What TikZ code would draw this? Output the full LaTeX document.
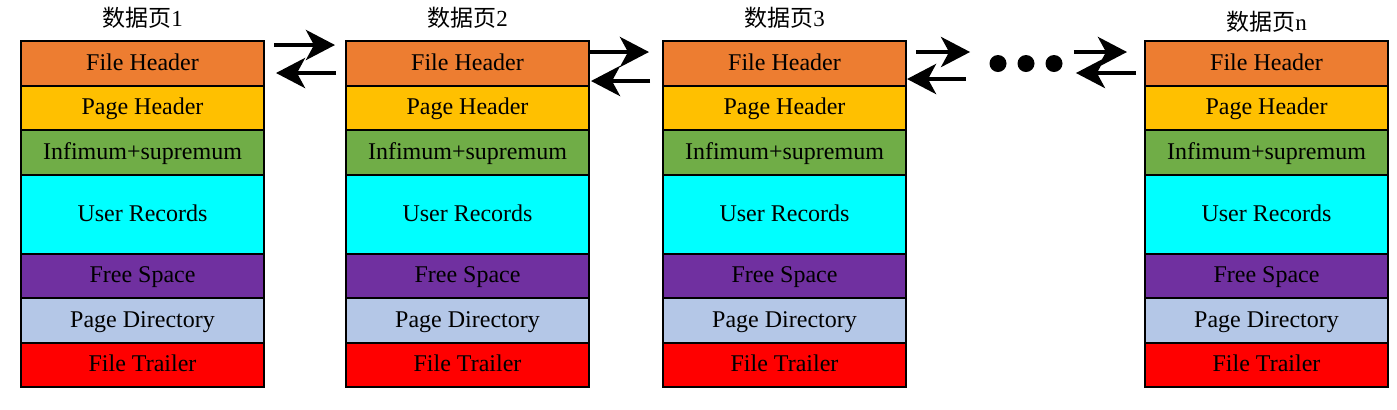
\documentclass[tikz,border=0pt]{standalone}
\usepackage{fontspec}
\setmainfont{Liberation Serif}
\newfontfamily\cjk{Noto Sans CJK SC}
\usepackage{tikz}
\usetikzlibrary{arrows.meta,calc,positioning}
\definecolor{fhOrange}{HTML}{ED7D31}
\definecolor{phGold}{HTML}{FFC000}
\definecolor{infGreen}{HTML}{70AD47}
\definecolor{urCyan}{HTML}{00FFFF}
\definecolor{fsPurple}{HTML}{7030A0}
\definecolor{pdBlue}{HTML}{B4C7E7}
\definecolor{ftRed}{HTML}{FF0000}

\begin{document}
\begin{tikzpicture}[
    x=0.5pt,y=-0.5pt,
    node distance=0pt,
    cell/.style={draw=black,line width=0.8pt,minimum width=121.5pt,
      inner sep=0pt,outer sep=0pt,text height=7.9pt,text depth=1pt,
      font=\fontsize{12}{14}\selectfont},
    pagetitle/.style={inner sep=0pt,font=\fontsize{11.5}{13}\selectfont},
    dot/.style={circle,fill=black,minimum size=8.5pt,inner sep=0pt},
    link/.style={-{Stealth[length=14.5pt,width=15pt,inset=4pt]},line width=2.2pt}
  ]
    \useasboundingbox (0,0) rectangle (1397,409);

    % the four data pages
    \foreach \i/\x/\ty in {1/142.5/18,2/467.5/18,3/784.5/18,n/1266.5/22}{
      \node[pagetitle] (t\i) at (\x,\ty) {{\cjk 数据页}\i};
      \node[cell,fill=fhOrange,minimum height=22.5pt] (fh\i) at (\x,63.5) {File Header};
      \node[cell,fill=phGold,minimum height=22pt,below=of fh\i] (ph\i) {Page Header};
      \node[cell,fill=infGreen,minimum height=22.5pt,below=of ph\i] (inf\i) {Infimum+supremum};
      \node[cell,fill=urCyan,minimum height=39.5pt,below=of inf\i] (ur\i) {User Records};
      \node[cell,fill=fsPurple,minimum height=22pt,below=of ur\i] (fs\i) {Free Space};
      \node[cell,fill=pdBlue,minimum height=22.5pt,below=of fs\i] (pd\i) {Page Directory};
      \node[cell,fill=ftRed,minimum height=22pt,below=of pd\i] (ft\i) {File Trailer};
    }

    % ellipsis between page 3 and page n
    \node[dot] (dot1) at (998,63.5) {};
    \node[dot] (dot2) at (1026,63.5) {};
    \node[dot] (dot3) at (1054,63.5) {};

    % double links
    \draw[link,shorten <=5pt,shorten >=5.5pt] ($(fh1.east)+(0,-18.5)$) -- ($(fh2.west)+(0,-18.5)$);
    \draw[link,shorten <=5pt,shorten >=6pt] ($(fh2.west)+(0,9.5)$) -- ($(fh1.east)+(0,9.5)$);
    \draw[link,shorten <=-0.5pt,shorten >=7pt] ($(fh2.east)+(0,-11.5)$) -- ($(fh3.west)+(0,-11.5)$);
    \draw[link,shorten <=6.5pt,shorten >=1pt] ($(fh3.west)+(0,17.5)$) -- ($(fh2.east)+(0,17.5)$);
    \draw[link,shorten <=5pt,shorten >=9.5pt] ($(fh3.east)+(0,-11.5)$) -- ($(dot1.west)+(0,-11.5)$);
    \draw[link,shorten <=11.5pt,shorten >=0.5pt] ($(dot1.west)+(0,15.5)$) -- ($(fh3.east)+(0,15.5)$);
    \draw[link,shorten <=5.5pt,shorten >=9pt] ($(dot3.east)+(0,-11.5)$) -- ($(fhn.west)+(0,-11.5)$);
    \draw[link,shorten <=4.5pt,shorten >=6.5pt] ($(fhn.west)+(0,9.5)$) -- ($(dot3.east)+(0,9.5)$);
  \end{tikzpicture}
\end{document}
